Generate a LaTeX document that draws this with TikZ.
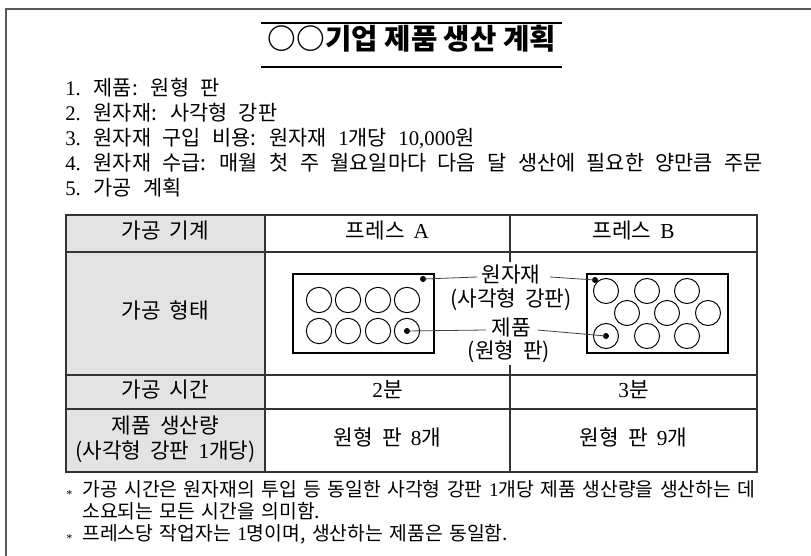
\documentclass[tikz,border=0pt]{standalone}
\usepackage{fontspec}
\setmainfont{Noto Sans CJK KR}
\newfontfamily\ser{Liberation Serif}
\newcommand\D[1]{{\ser #1}}
\newcommand\widesp{\spaceskip=0.55em plus 0.1em\relax}
\newcommand\midsp{\spaceskip=0.42em plus 0.1em\relax}
\newcommand\notesp{\spaceskip=0.33em plus 0.1em\relax}
\newcommand\fnmark{\makebox[12pt][l]{\raisebox{-0.15em}{\ser\small *}}}
\tikzset{
  every node/.style={inner sep=0pt},
  kt/.style={text height=0.8em, text depth=0.05em},
  cell/.style={kt, align=center, font=\fontsize{16}{19}\selectfont\midsp},
  listtxt/.style={kt, anchor=west, font=\fontsize{15.6}{18}\selectfont\widesp},
  note/.style={kt, anchor=west, font=\fontsize{14.5}{17}\selectfont\notesp},
  tl/.style={line width=0.9pt, draw=black!80},
  lead/.style={line width=0.6pt, draw=black!75},
  dotm/.style={circle, fill=black, minimum size=4.5pt, inner sep=0pt},
  plateA/.style={circle, draw=black, line width=0.75pt, minimum size=19pt, inner sep=0pt},
  plateB/.style={circle, draw=black, line width=0.75pt, minimum size=18.8pt, inner sep=0pt},
  lab/.style={kt, font=\fontsize{16}{17}\selectfont\midsp},
}
\begin{document}
\begin{tikzpicture}[x=0.75pt, y=-0.75pt]
\useasboundingbox (0,0) rectangle (811,556);
% outer frame (open at right and bottom)
\draw[line width=1.1pt, draw=black!65] (6,556) -- (6,9) -- (811,9);
% title
\node[kt, font=\fontsize{21.5}{24}\selectfont\bfseries] (title) at (412,45) {○○기업 제품 생산 계획};
\draw[line width=1.6pt] (261,23) -- (562,23);
\draw[line width=1.6pt] (261,67) -- (562,67);
% list
\node[listtxt] (l1) at (65,91) {\D{1.} 제품: 원형 판};
\node[listtxt] (l2) at (65,116) {\D{2.} 원자재: 사각형 강판};
\node[listtxt] (l3) at (65,141) {\D{3.} 원자재 구입 비용: 원자재 \D{1}개당 \D{10,000}원};
\node[listtxt] (l4) at (65,166) {\D{4.} 원자재 수급: 매월 첫 주 월요일마다 다음 달 생산에 필요한 양만큼 주문};
\node[listtxt] (l5) at (65,191) {\D{5.} 가공 계획};
% table
\fill[black!11] (66,215) rectangle (265,472);
\draw[tl] (66,215) rectangle (757,472);
\draw[tl] (66,252) -- (757,252);
\draw[tl] (66,375) -- (757,375);
\draw[tl] (66,409) -- (757,409);
\draw[tl] (265,215) -- (265,472);
\draw[tl] (510,215) -- (510,262);
\draw[tl] (510,365) -- (510,472);
% table texts
\node[cell] (h1) at (165.5,233.5) {가공 기계};
\node[cell] (h2) at (387.5,233.5) {프레스 \D{A}};
\node[cell] (h3) at (633.5,233.5) {프레스 \D{B}};
\node[cell] (r2) at (165.5,313.5) {가공 형태};
\node[cell] (r3) at (165.5,392) {가공 시간};
\node[cell] (r3a) at (387.5,392) {\D{2}분};
\node[cell] (r3b) at (633.5,392) {\D{3}분};
\node[cell] (r4l1) at (165.5,428) {제품 생산량};
\node[cell] (r4l2) at (165.5,453) {(사각형 강판 \D{1}개당)};
\node[cell] (r4a) at (387.5,440.5) {원형 판 \D{8}개};
\node[cell] (r4b) at (633.5,440.5) {원형 판 \D{9}개};
% press A diagram
\draw[line width=0.8pt] (293,274) rectangle (434,353);
\foreach \i/\x in {1/319,2/348,3/378,4/407}{
  \node[plateA] (au\i) at (\x,300) {};
  \node[plateA] (ad\i) at (\x,331) {};
}
% press B diagram
\draw[line width=0.8pt] (587,274) rectangle (728,353);
\foreach \i/\x in {1/606,2/647,3/687}{
  \node[plateB] (bu\i) at (\x,291) {};
  \node[plateB] (bd\i) at (\x,336) {};
}
\foreach \i/\x in {1/627,2/667,3/708}{
  \node[plateB] (bm\i) at (\x,313) {};
}
% labels
\node[lab] (lab1) at (511,277) {원자재};
\node[lab] (lab2) at (511,301) {(사각형 강판)};
\node[lab] (lab3) at (511,330) {제품};
\node[lab] (lab4) at (509,353) {(원형 판)};
% dots
\node[dotm] (da) at (423,279) {};
\node[dotm] (dc) at (ad4) {};
\node[dotm] (db) at (595,280) {};
\node[dotm] (dd) at (bd1) {};
% leaders
\draw[lead] (da.center) -- ([xshift=-3pt]lab1.west);
\draw[lead] ([xshift=7pt]lab1.east) -- (db.center);
\draw[lead] (dc.center) -- ([xshift=-4pt]lab3.west);
\draw[lead] ([xshift=5pt]lab3.east) -- (dd.center);
% footnotes
\node[note] (f1) at (66,491) {\fnmark 가공 시간은 원자재의 투입 등 동일한 사각형 강판 \D{1}개당 제품 생산량을 생산하는 데};
\node[note] (f2) at (82,513) {소요되는 모든 시간을 의미함.};
\node[note] (f3) at (66,535) {\fnmark 프레스당 작업자는 \D{1}명이며, 생산하는 제품은 동일함.};
\end{tikzpicture}
\end{document}
